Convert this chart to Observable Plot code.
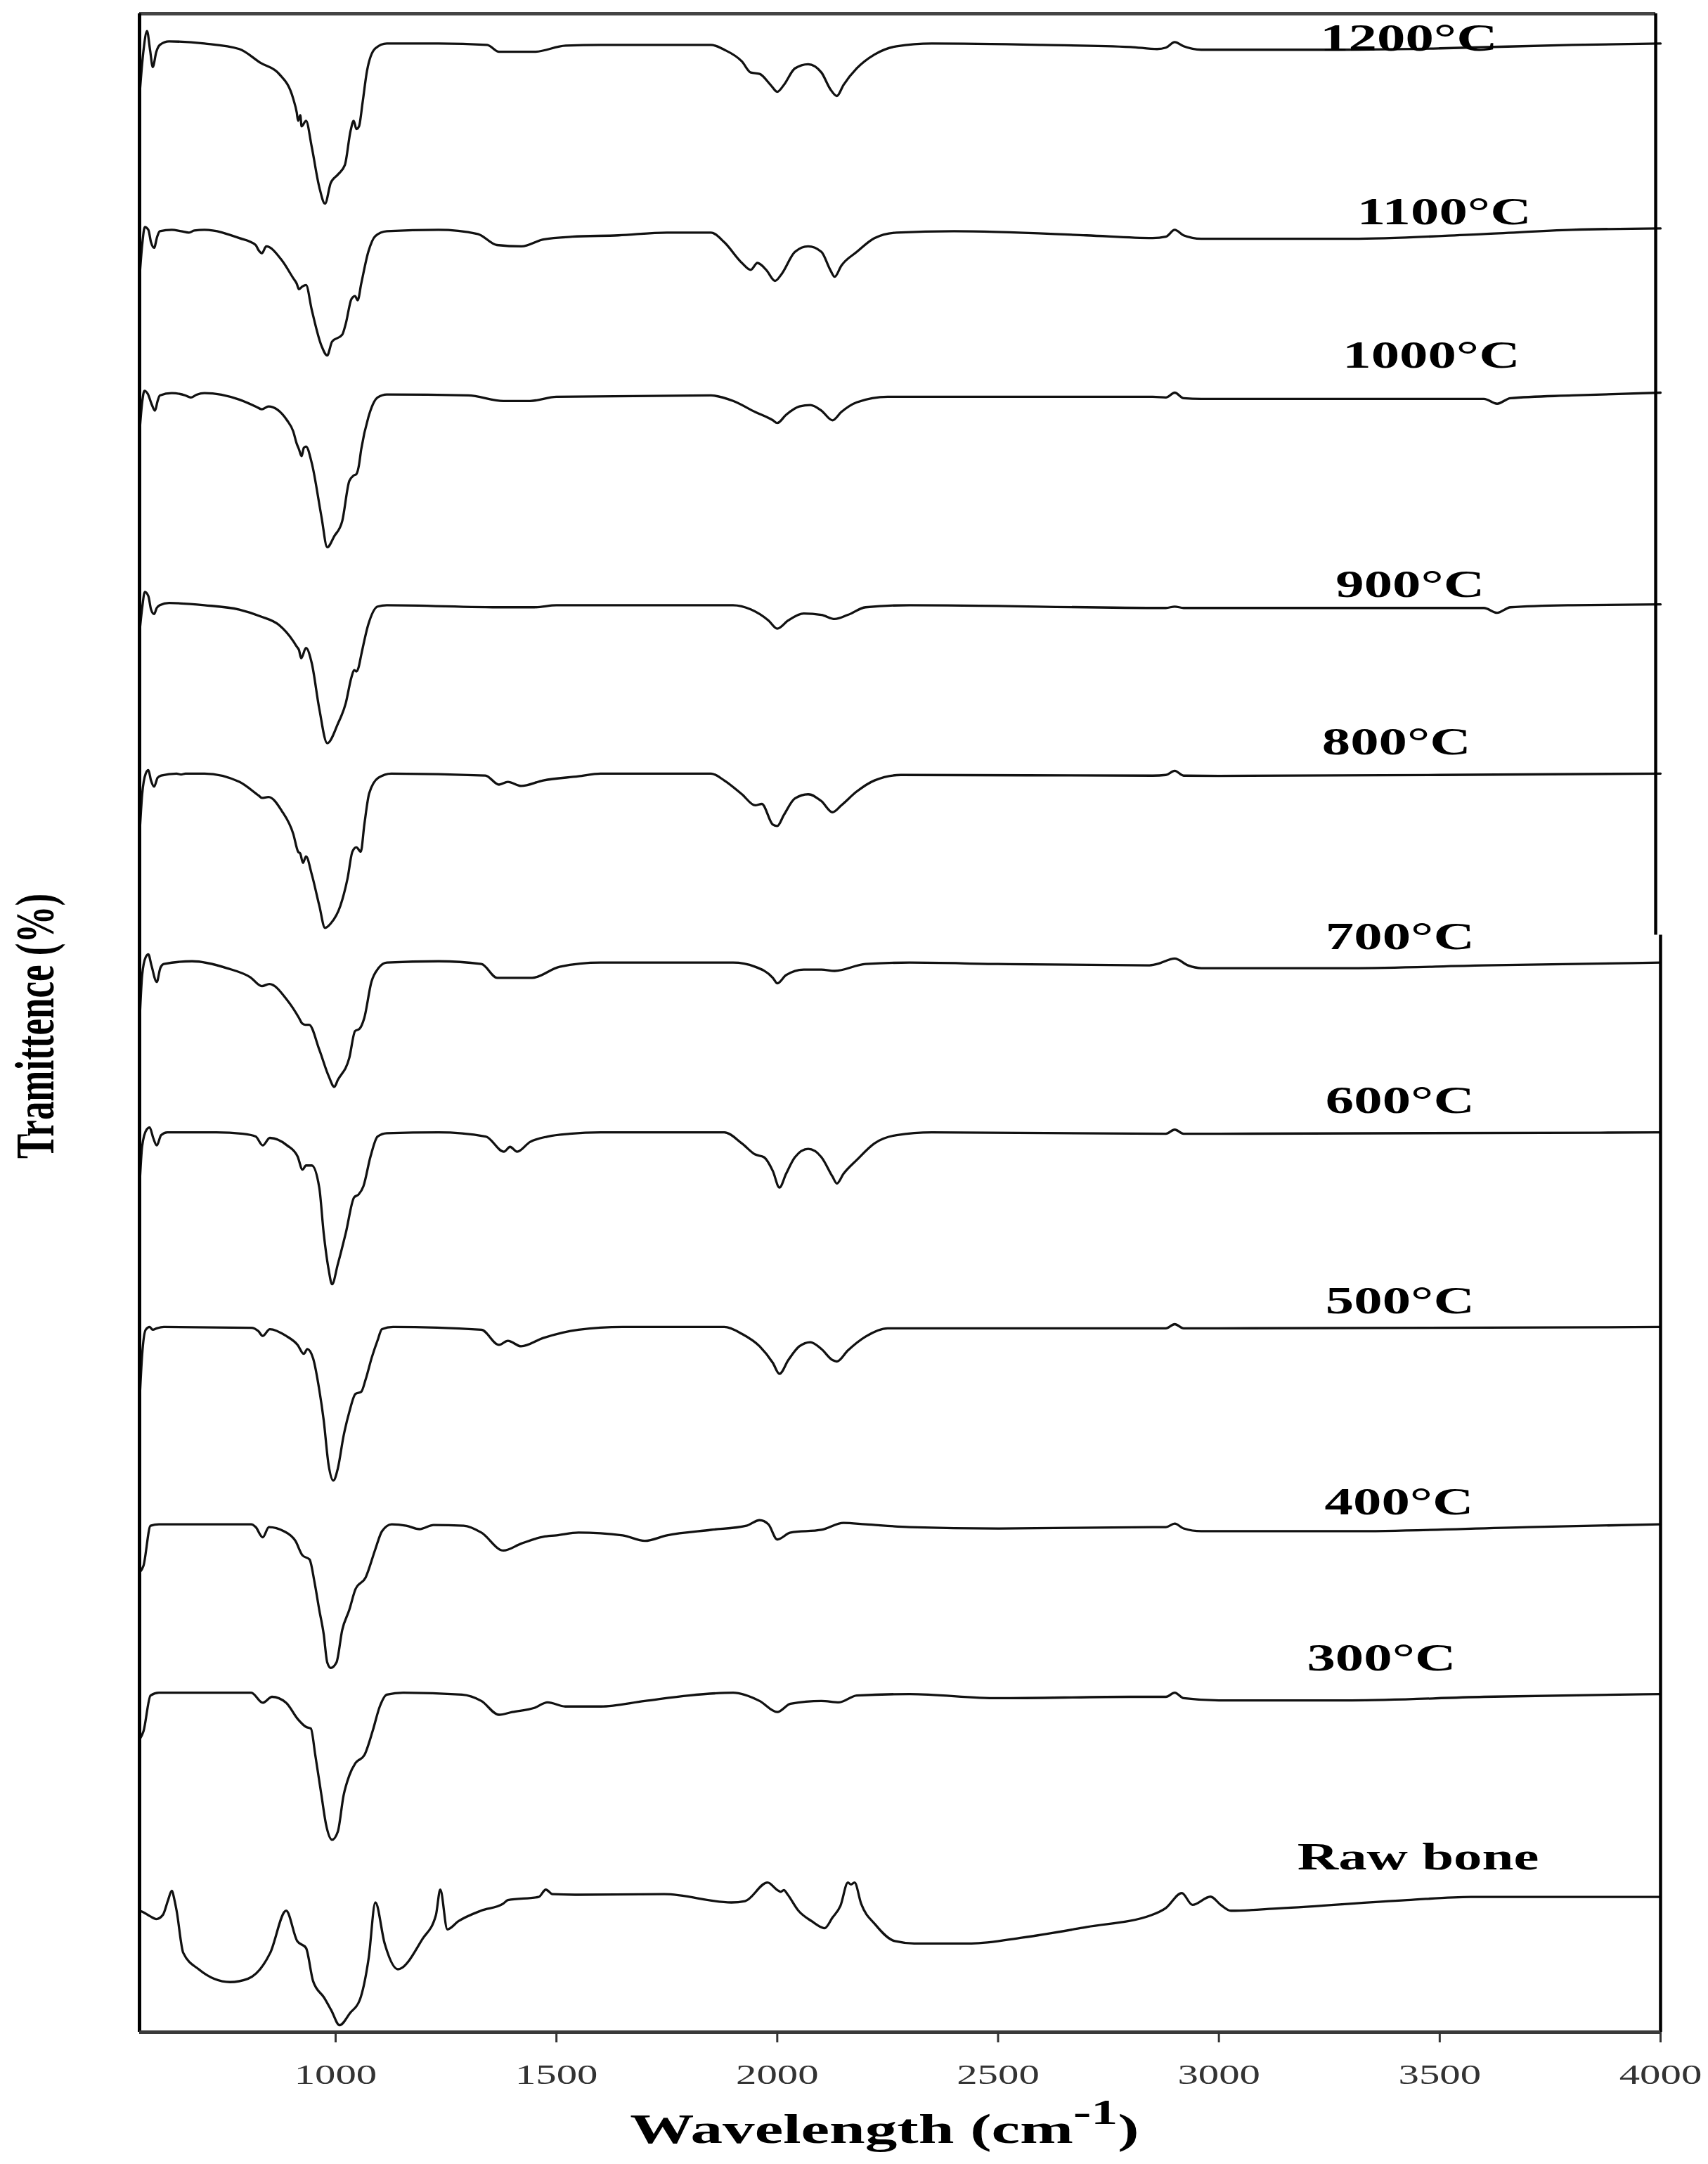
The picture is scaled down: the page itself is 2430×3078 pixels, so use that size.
<!DOCTYPE html>
<html><head><meta charset="utf-8">
<script src="https://cdn.jsdelivr.net/npm/d3@7"></script>
<script src="https://cdn.jsdelivr.net/npm/@observablehq/plot@0.6"></script>
<style>
html,body{margin:0;padding:0;background:#fff;}
#chart{width:2430px;height:3078px;overflow:hidden;}
</style></head><body><div id="chart"></div>
<script>
// ---------------- DATA ----------------
// FTIR spectra, wavenumber (cm-1) vs transmittance relative to each trace's baseline (a.u.)
const sampleNames = ["1200°C","1100°C","1000°C","900°C","800°C","700°C","600°C","500°C","400°C","300°C","Raw bone"];
const baselineOffsets = [1441,1305,1186,1034,912,776,652,511,368,246,98];
const xTicks = [1000,1500,2000,2500,3000,3500,4000];

const spec1200 = [[556,-38],[565,-5],[573,9],[580,-5],[586,-17],[594,-6],[602,-1],[623,1.5],[703,0],[782,-4],[830,-14],[872,-22],[904,-40],[912,-50],[915,-56],[920,-52],[923,-60],[933,-56],[946,-75],[963,-104],[976,-116],[989,-101],[1005,-95],[1021,-88],[1034,-63],[1041,-56],[1047,-62],[1053,-60],[1061,-43],[1071,-20],[1090,-3.5],[1116,0],[1233,0],[1343,-1],[1370,-6],[1450,-6],[1521,-1.5],[1600,-1],[1850,-1],[1880,-4.5],[1920,-13],[1940,-21],[1960,-22],[1985,-30],[2000,-35],[2015,-30],[2040,-18],[2070,-15],[2100,-21],[2120,-33],[2135,-38],[2150,-30],[2180,-18],[2220,-8],[2270,-2],[2350,0],[2600,-1],[2800,-2.5],[2860,-4],[2880,-3],[2900,1],[2920,-2],[2960,-4.5],[3250,-4.5],[3500,-3.5],[3800,-1],[4000,0]];
const spec1100 = [[556,-34],[562,-10],[568,3],[576,1],[582,-8],[589,-12],[596,-4],[602,0],[629,1],[650,0],[668,-1],[680,0.5],[703,1],[782,-5],[819,-10],[826,-14],[833,-16],[843,-11],[878,-21],[904,-34],[912,-38],[917,-42],[925,-40],[933,-39],[946,-57],[968,-83],[981,-90],[992,-80],[1015,-75],[1023,-67],[1036,-49],[1044,-47],[1050,-50],[1058,-38],[1074,-15],[1090,-3.5],[1116,0],[1233,1],[1322,-2],[1365,-10],[1421,-11],[1470,-6],[1536,-4],[1640,-3],[1750,-1],[1850,-1],[1880,-8],[1920,-23],[1940,-28],[1955,-23],[1975,-28],[1995,-36],[2010,-31],[2040,-15],[2070,-11],[2100,-15],[2120,-28],[2130,-33],[2145,-25],[2180,-15],[2220,-5],[2270,-1],[2400,0],[2700,-3],[2850,-5],[2880,-4],[2900,1],[2920,-3],[2960,-5.5],[3300,-5.5],[3600,-2],[3800,1],[4000,2]];
const spec1000 = [[556,-27],[562,-5],[567,3.4],[575,1],[583,-6],[591,-11],[597,-4],[602,0],[629,1.7],[660,0],[672,-1.5],[685,0.5],[703,1.7],[782,-3],[819,-8],[833,-10],[848,-8],[890,-18],[904,-26],[912,-35],[917,-39],[923,-44],[928,-38],[933,-37],[946,-49],[968,-88],[981,-110],[997,-102],[1015,-91],[1031,-62],[1041,-58],[1047,-57],[1052,-52],[1058,-39],[1074,-16],[1095,-1.5],[1116,0.7],[1300,0],[1380,-4],[1440,-4],[1500,-1],[1850,0],[1900,-4],[1950,-12],[1990,-18],[2000,-20],[2020,-14],[2050,-8],[2075,-7],[2100,-11],[2125,-18],[2145,-12],[2180,-5],[2250,-1],[2500,-1],[2850,-1],[2880,-1.5],[2900,2],[2920,-2],[2960,-2.5],[3600,-2.5],[3630,-6],[3660,-2],[3800,0],[4000,2]];
const spec900 = [[556,-20],[562,-2],[568,9.7],[576,6.6],[582,-3],[589,-6.4],[595,-2],[602,0],[623,1.6],[703,0],[782,-3.2],[830,-8.1],[872,-14.4],[904,-26],[912,-30],[917,-32.4],[922,-38.4],[933,-31],[946,-42],[963,-75],[981,-100],[1005,-86],[1023,-71],[1036,-52],[1042,-47],[1047,-48],[1052,-45],[1058,-36],[1074,-14],[1095,-1],[1116,0],[1380,-1.5],[1450,-1.5],[1500,0],[1900,0],[1940,-3],[1980,-11],[2000,-17],[2025,-11],[2060,-6],[2100,-7],[2130,-10],[2160,-7],[2200,-1.5],[2300,0],[2880,-2],[2900,-1],[2920,-2],[2950,-2],[3600,-2],[3630,-5.5],[3660,-1.5],[3800,0],[4000,0.6]];
const spec800 = [[556,-45],[562,-15],[570,0],[576,2.5],[582,-5],[589,-9.5],[597,-3],[605,-1.4],[640,0],[650,-0.7],[660,0],[703,0],[782,-6],[826,-16],[833,-17.6],[848,-17],[878,-27],[904,-43.6],[915,-56.6],[920,-58],[926,-64.7],[933,-60],[946,-73],[963,-95.6],[976,-111.8],[989,-108.6],[1011,-95.6],[1027,-76],[1038,-56.6],[1047,-53.4],[1057,-56.6],[1065,-37],[1076,-14.4],[1097,-3],[1126,0],[1339,-1.4],[1370,-8],[1390,-6],[1420,-9],[1470,-5],[1550,-2],[1600,0],[1850,0],[1880,-5],[1920,-15],[1950,-23],[1965,-22],[1990,-37],[2000,-38],[2015,-30],[2040,-18],[2070,-15],[2100,-20],[2125,-28],[2145,-23],[2180,-13],[2220,-5],[2280,-1],[2850,-1.5],[2880,-1],[2900,2],[2920,-1.5],[3000,-1.7],[3500,-1],[4000,0]];
const spec700 = [[556,-45],[562,-10],[570,3],[576,5],[583,-3],[595,-15],[603,-5],[611,-2],[675,0],[754,-5],[807,-11.6],[833,-18],[850,-16.5],[890,-28],[917,-41],[924,-45],[931,-46],[940,-46],[963,-64],[984,-83],[997,-91],[1005,-86],[1031,-70],[1044,-50.6],[1054,-49],[1065,-41],[1081,-15],[1097,-5],[1116,-1],[1233,0],[1330,-2],[1366,-12],[1445,-12],[1507,-4],[1600,-1],[1900,-1],[1950,-4],[1990,-12],[2000,-16],[2020,-10],[2060,-6],[2100,-6],[2130,-7],[2200,-2],[2300,-1],[2500,-2],[2840,-3],[2860,-2],[2900,2],[2930,-3],[2960,-5],[3300,-5],[3600,-3],[4000,-1]];
const spec600 = [[556,-40],[562,-10],[572,2],[579,3.6],[587,-4],[595,-9.4],[605,-2],[619,0],[730,0],[790,-1],[819,-3],[835,-9.4],[851,-4],[890,-9.4],[914,-17.5],[925,-27],[933,-24],[946,-24],[963,-40],[973,-73],[984,-99],[992,-110],[1005,-95.5],[1023,-73],[1042,-47],[1052,-45],[1063,-39],[1079,-17.5],[1095,-3],[1116,-0.6],[1233,0],[1340,-3],[1381,-14],[1395,-10.5],[1411,-14],[1440,-7],[1480,-3],[1530,-1],[1600,0],[1880,0],[1920,-8],[1950,-16],[1970,-18],[1990,-28],[2005,-40],[2020,-30],[2040,-18],[2070,-12],[2100,-18],[2125,-32],[2135,-37],[2150,-30],[2180,-20],[2220,-8],[2270,-2],[2350,0],[2880,-1],[2900,2],[2920,-1],[3000,-1],[4000,0]];
const spec500 = [[556,-55],[562,-20],[570,-2],[579,0],[586,-2],[595,-1],[611,0],[809,-0.6],[825,-3],[835,-6.5],[851,-1.6],[888,-6.5],[914,-13],[928,-19.5],[936,-16],[949,-22.7],[963,-45.5],[973,-67.5],[984,-99.7],[995,-111.3],[1005,-102.6],[1018,-79],[1031,-61.6],[1045,-48.5],[1058,-47],[1068,-38],[1082,-22],[1095,-9.7],[1105,-1.6],[1130,0],[1330,-2],[1370,-13],[1390,-10],[1420,-14],[1470,-8],[1550,-2],[1650,0],[1880,0],[1920,-5],[1960,-14],[1990,-26],[2005,-34],[2025,-24],[2050,-14],[2075,-11],[2100,-16],[2125,-24],[2135,-25],[2160,-17],[2200,-7],[2250,-1],[2880,-1],[2900,2],[2920,-1],[3000,-1],[4000,0]];
const spec400 = [[556,-35],[565,-30],[581,-1],[600,0],[809,0],[819,-2],[835,-9.4],[849,-2],[883,-5],[909,-12],[925,-22.5],[941,-25.5],[952,-41.5],[963,-62],[973,-79.5],[981,-100],[989,-104],[1002,-100],[1015,-76.5],[1031,-62],[1045,-47],[1068,-38.5],[1090,-18],[1105,-5],[1127,0],[1160,-1],[1190,-3.5],[1222,-0.5],[1290,-1],[1330,-6],[1380,-19],[1420,-14],[1470,-9],[1500,-8],[1550,-6],[1650,-8],[1700,-12],[1750,-8],[1850,-4],[1930,-1],[1960,3],[1980,0],[2000,-11],[2030,-6],[2100,-4],[2150,1],[2200,0],[2300,-2],[2500,-3],[2850,-2],[2880,-2],[2900,0.5],[2920,-3],[2960,-5],[3300,-5],[3700,-2],[4000,0]];
const spec300 = [[556,-34],[565,-28],[581,-2],[600,0],[809,0],[835,-7.3],[856,-3],[888,-7.3],[914,-19],[933,-24.8],[944,-26],[954,-45.3],[968,-74.5],[978,-95],[992,-106.6],[1005,-100.7],[1018,-74.5],[1031,-60],[1045,-51],[1065,-45.3],[1084,-27.6],[1100,-10],[1116,-1.4],[1153,0],[1286,-1.4],[1330,-6],[1370,-16],[1400,-14],[1450,-11],[1480,-7],[1520,-10],[1600,-10],[1700,-6],[1800,-2],[1900,0],[1960,-6],[2000,-14],[2030,-8],[2100,-6],[2140,-7],[2180,-2],[2300,-1],[2500,-4],[2800,-3],[2880,-3],[2900,0],[2920,-4],[3000,-5.6],[3300,-5.6],[3600,-3],[4000,-1]];
const specRaw = [[556,-10],[564,-11],[580,-14],[594,-16],[609,-13],[620,-3],[629,4.5],[635,-2],[640,-10],[655,-40.5],[690,-52.4],[761,-61.7],[802,-59.2],[852,-40.5],[888,-10],[913,-32],[933,-37],[949,-61],[974,-73],[990,-82],[1009,-93],[1033,-84],[1055,-74.4],[1075,-44],[1090,-4],[1111,-33.7],[1141,-52.4],[1197,-30.3],[1227,-13.3],[1237,5.3],[1253,-23.5],[1278,-17.6],[1329,-10],[1379,-5],[1390,-2.3],[1460,0],[1476,5.3],[1491,2],[1542,1.6],[1744,2],[1896,-4],[1927,-3],[1978,10.4],[2000,5],[2008,3.7],[2015,5],[2023,2],[2048,-10],[2080,-18],[2099,-21.8],[2107,-22.7],[2125,-15],[2143,-6.5],[2160,10.4],[2167,9],[2175,10.4],[2190,-5],[2222,-20],[2266,-32],[2310,-33.7],[2440,-33.7],[2556,-29.4],[2701,-21.8],[2846,-13.3],[2880,-8],[2916,2.8],[2940,-5.7],[2981,0.2],[3005,-6],[3027,-10],[3136,-8.3],[3426,-2.3],[3571,0],[4000,0]];

// ---------------- LAYOUT ----------------
const W = 2430, H = 3078;
const X_DOMAIN = [556, 4000], Y_DOMAIN = [0, 1462.6];
const UPPER_RIGHT_X = 3989, FRAME_STEP_Y = 795;
const TEXT_STRETCH = 1.47; // the source figure is horizontally stretched
const labelAnchor = [[3430,-5],[3510,5],[3481,20],[3433,6],[3402,14],[3410,9],[3410,14],[3410,10],[3408,7],[3368,16],[3451,20]];
const FONT = "'Liberation Serif','Times New Roman',serif";

const spectra = [spec1200, spec1100, spec1000, spec900, spec800, spec700, spec600, spec500, spec400, spec300, specRaw];
const rows = spectra.flatMap((s, i) => s.map(([wn, t]) => ({sample: sampleNames[i], wn, t: baselineOffsets[i] + t})));
const labels = sampleNames.map((name, i) => ({name, x: labelAnchor[i][0], y: baselineOffsets[i] + labelAnchor[i][1]}));

const chart = Plot.plot({
  width: W, height: H,
  marginTop: 19, marginRight: 68, marginBottom: 188, marginLeft: 198,
  style: {fontFamily: FONT, fontSize: "40px", background: "#fff", color: "#000", overflow: "visible"},
  x: {domain: X_DOMAIN},
  y: {domain: Y_DOMAIN, axis: null},
  marks: [
    Plot.line(rows, {x: "wn", y: "t", z: "sample", stroke: "#111", strokeWidth: 3.3, curve: "monotone-x", strokeLinejoin: "round"}),
    Plot.ruleY([Y_DOMAIN[1]], {x1: X_DOMAIN[0], x2: UPPER_RIGHT_X, stroke: "#444", strokeWidth: 5}),
    Plot.ruleX([X_DOMAIN[0]], {stroke: "#000", strokeWidth: 5}),
    Plot.ruleX([UPPER_RIGHT_X], {y1: FRAME_STEP_Y, y2: Y_DOMAIN[1], stroke: "#000", strokeWidth: 4.5}),
    Plot.ruleX([X_DOMAIN[1]], {y1: Y_DOMAIN[0], y2: FRAME_STEP_Y, stroke: "#000", strokeWidth: 4.5}),
    Plot.ruleY([Y_DOMAIN[0]], {stroke: "#3a3a3a", strokeWidth: 5}),
    Plot.axisX({ticks: xTicks, tickSize: 15, tickPadding: 30, tickFormat: d => String(d), label: null, fontSize: 40, strokeWidth: 3, stroke: "#333", fill: "#333"}),
    Plot.text(labels, {x: "x", y: "y", text: "name", fontSize: 55, fontWeight: "bold", lineAnchor: "bottom", textAnchor: "middle", fill: "#000", fontFamily: FONT}),
    Plot.text(["Wavelength (cm-1)"], {frameAnchor: "bottom", textAnchor: "middle", dx: -22, dy: 157, lineAnchor: "bottom", fontSize: 60, fontWeight: "bold", fontFamily: FONT, fill: "#000"}),
    Plot.text(["Tramittence (%)"], {frameAnchor: "left", textAnchor: "middle", rotate: -90, dx: -123, dy: 4.5, lineAnchor: "bottom", fontSize: 53, fontWeight: "bold", fontFamily: FONT, fill: "#000"})
  ]
});

// horizontal stretch of all texts (as in the source picture)
chart.querySelectorAll("text").forEach(t => {
  const tr = t.getAttribute("transform");
  const isXLabel = t.textContent === "Wavelength (cm-1)";
  const s = isXLabel ? 1.52 : TEXT_STRETCH;
  if (tr) {
    const rotated = /rotate\(/.test(tr);
    t.setAttribute("transform", tr + (rotated ? ` scale(1,${s})` : ` scale(${s},1)`));
  } else {
    const x = parseFloat(t.getAttribute("x")) || 0, y = parseFloat(t.getAttribute("y")) || 0;
    t.setAttribute("transform", `translate(${x},${y}) scale(${s},1) translate(${-x},${-y})`);
  }
  if (isXLabel) {
    const ns = "http://www.w3.org/2000/svg";
    t.textContent = "";
    const a = document.createElementNS(ns, "tspan"); a.textContent = "Wavelength (cm";
    const b = document.createElementNS(ns, "tspan"); b.textContent = "-1"; b.setAttribute("font-size", "50"); b.setAttribute("dy", "-27");
    const c = document.createElementNS(ns, "tspan"); c.textContent = ")"; c.setAttribute("dy", "27");
    t.append(a, b, c);
  }
});
document.getElementById("chart").appendChild(chart);
</script></body></html>
